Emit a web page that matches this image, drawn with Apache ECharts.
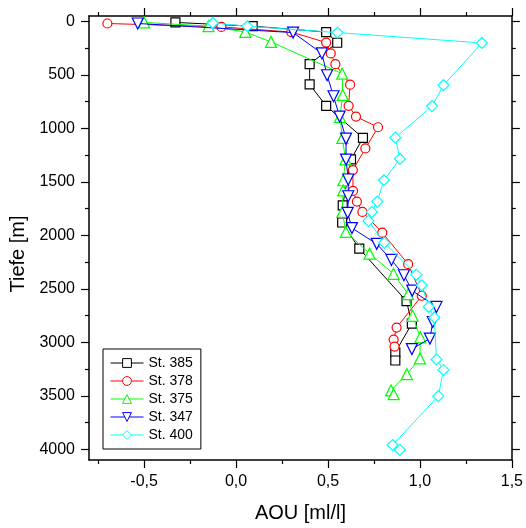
<!DOCTYPE html>
<html>
<head>
<meta charset="utf-8">
<script src="https://cdn.jsdelivr.net/npm/echarts@6/dist/echarts.min.js"></script>
<style>html,body{margin:0;padding:0;background:#fff}#c{width:526px;height:528px}</style>
</head>
<body>
<div id="c"></div>
<script>
// Data (AOU in ml/l, depth in m)
const aou385 = [-0.33, 0.09, 0.49, 0.55, 0.40, 0.40, 0.49, 0.69, 0.625, 0.58, 0.577, 0.67, 0.927, 0.956, 0.866, 0.866];
const dep385 = [10, 45, 100, 200, 400, 590, 790, 1090, 1290, 1720, 1880, 2125, 2615, 2825, 3095, 3170];

const aou378 = [-0.70, -0.08, 0.30, 0.49, 0.515, 0.54, 0.62, 0.612, 0.652, 0.772, 0.703, 0.635, 0.636, 0.657, 0.687, 0.795, 0.936, 1.01, 0.873, 0.857, 0.862];
const dep378 = [20, 52, 100, 198, 300, 400, 592, 790, 890, 990, 1188, 1390, 1585, 1685, 1781, 1975, 2270, 2565, 2862, 2974, 3040];

const aou375 = [-0.50, -0.15, 0.05, 0.19, 0.577, 0.58, 0.565, 0.578, 0.595, 0.583, 0.582, 0.578, 0.597, 0.726, 0.856, 0.936, 0.96, 1.002, 1.0, 0.929, 0.843, 0.857];
const dep375 = [10, 45, 99, 192, 489, 688, 893, 1090, 1290, 1485, 1580, 1781, 1968, 2171, 2360, 2550, 2752, 2953, 3150, 3298, 3450, 3485];

const aou347 = [-0.535, 0.31, 0.467, 0.495, 0.53, 0.563, 0.598, 0.598, 0.61, 0.61, 0.607, 0.63, 0.765, 0.845, 0.913, 0.958, 1.09, 1.07, 1.054, 0.956];
const dep347 = [20, 105, 300, 504, 700, 890, 1096, 1292, 1478, 1635, 1790, 1932, 2080, 2230, 2373, 2517, 2669, 2810, 2965, 3063];

const aou400 = [-0.127, 0.061, 0.552, 1.337, 1.128, 1.066, 0.866, 0.891, 0.804, 0.768, 0.738, 0.72, 0.806, 0.98, 1.01, 1.048, 1.078, 1.09, 1.128, 1.10, 0.851, 0.891];
const dep400 = [15, 46, 105, 202, 597, 792, 1087, 1286, 1485, 1685, 1781, 1865, 2070, 2368, 2467, 2668, 2768, 3160, 3258, 3503, 3960, 4006];

const stationNames = ['St. 385', 'St. 378', 'St. 375', 'St. 347', 'St. 400'];

const xMajor = [-0.5, 0.0, 0.5, 1.0, 1.5];
const xMinor = [-0.75, -0.25, 0.25, 0.75, 1.25];
const yMajor = [0, 500, 1000, 1500, 2000, 2500, 3000, 3500, 4000];
const yMinor = [250, 750, 1250, 1750, 2250, 2750, 3250, 3750];

const FONT = "'Liberation Sans', Arial, sans-serif";
const zip = (a, d) => a.map((v, i) => [v, d[i]]);

const colors = ['#000000', '#ff0000', '#00ff00', '#0000ff', '#00ffff'];
const symbols = ['rect', 'circle', 'triangle', 'triangle', 'diamond'];
const sizes = [9, 9, 11, 11, 11];
const rotates = [0, 0, 0, 180, 0];
const datasets = [zip(aou385, dep385), zip(aou378, dep378), zip(aou375, dep375), zip(aou347, dep347), zip(aou400, dep400)];

const XMIN = -0.8, XMAX = 1.5, YMIN = -50, YMAX = 4100;

function xAxisDef(pos, ticks, len, withLine, withLabel, name) {
  return {
    type: 'value', position: pos, min: XMIN, max: XMAX, gridIndex: 0,
    axisLine: { show: withLine, onZero: false, lineStyle: { color: '#000', width: 1.5 } },
    axisTick: { show: true, inside: false, length: len, customValues: ticks, lineStyle: { color: '#000', width: 1.2 } },
    axisLabel: withLabel ? { show: true, customValues: ticks, margin: 14, color: '#000', fontSize: 16, fontFamily: FONT,
      formatter: v => v.toFixed(1).replace('.', ',') } : { show: false },
    splitLine: { show: false },
    name: name || '', nameLocation: 'middle', nameGap: 43,
    nameTextStyle: { color: '#000', fontSize: 20, fontFamily: FONT }
  };
}
function yAxisDef(pos, ticks, len, withLine, withLabel, name) {
  return {
    type: 'value', position: pos, min: YMIN, max: YMAX, inverse: true, gridIndex: 0,
    axisLine: { show: withLine, onZero: false, lineStyle: { color: '#000', width: 1.5 } },
    axisTick: { show: true, inside: false, length: len, customValues: ticks, lineStyle: { color: '#000', width: 1.2 } },
    axisLabel: withLabel ? { show: true, customValues: ticks, margin: 14, color: '#000', fontSize: 16, fontFamily: FONT,
      formatter: v => String(v) } : { show: false },
    splitLine: { show: false },
    name: name || '', nameLocation: 'middle', nameGap: 58,
    nameTextStyle: { color: '#000', fontSize: 20, fontFamily: FONT, padding: [0, 32, 0, 0] }
  };
}

const chart = echarts.init(document.getElementById('c'), null, { renderer: 'canvas' });
chart.setOption({
  backgroundColor: '#fff',
  animation: false,
  grid: { left: 89, right: 13, top: 16, bottom: 67, containLabel: false },
  xAxis: [
    xAxisDef('bottom', xMajor, 8, true, true, 'AOU [ml/l]'),
    xAxisDef('bottom', xMinor, 4, false, false),
    xAxisDef('top', xMajor, 8, true, false),
    xAxisDef('top', xMinor, 4, false, false)
  ],
  yAxis: [
    yAxisDef('left', yMajor, 8, true, true, 'Tiefe [m]'),
    yAxisDef('left', yMinor, 4, false, false),
    yAxisDef('right', yMajor, 8, true, false),
    yAxisDef('right', yMinor, 4, false, false)
  ],
  legend: {
    orient: 'vertical', left: 103, top: 349,
    padding: [7, 8, 7, 7],
    itemWidth: 33, itemHeight: 11, itemGap: 4,
    borderColor: '#000', borderWidth: 1, backgroundColor: '#fff',
    itemStyle: { borderWidth: 1 },
    lineStyle: { width: 1 },
    textStyle: { color: '#000', fontSize: 14, fontFamily: FONT },
    data: stationNames
  },
  series: stationNames.map((n, i) => ({
    name: n, type: 'line', xAxisIndex: 0, yAxisIndex: 0,
    data: datasets[i],
    symbol: symbols[i], symbolSize: sizes[i], symbolRotate: rotates[i],
    showAllSymbol: true,
    lineStyle: { color: colors[i], width: 1 },
    itemStyle: { color: '#fff', borderColor: colors[i], borderWidth: 1.2 },
    emphasis: { disabled: true },
    z: 2 + i
  }))
});
</script>
</body>
</html>
